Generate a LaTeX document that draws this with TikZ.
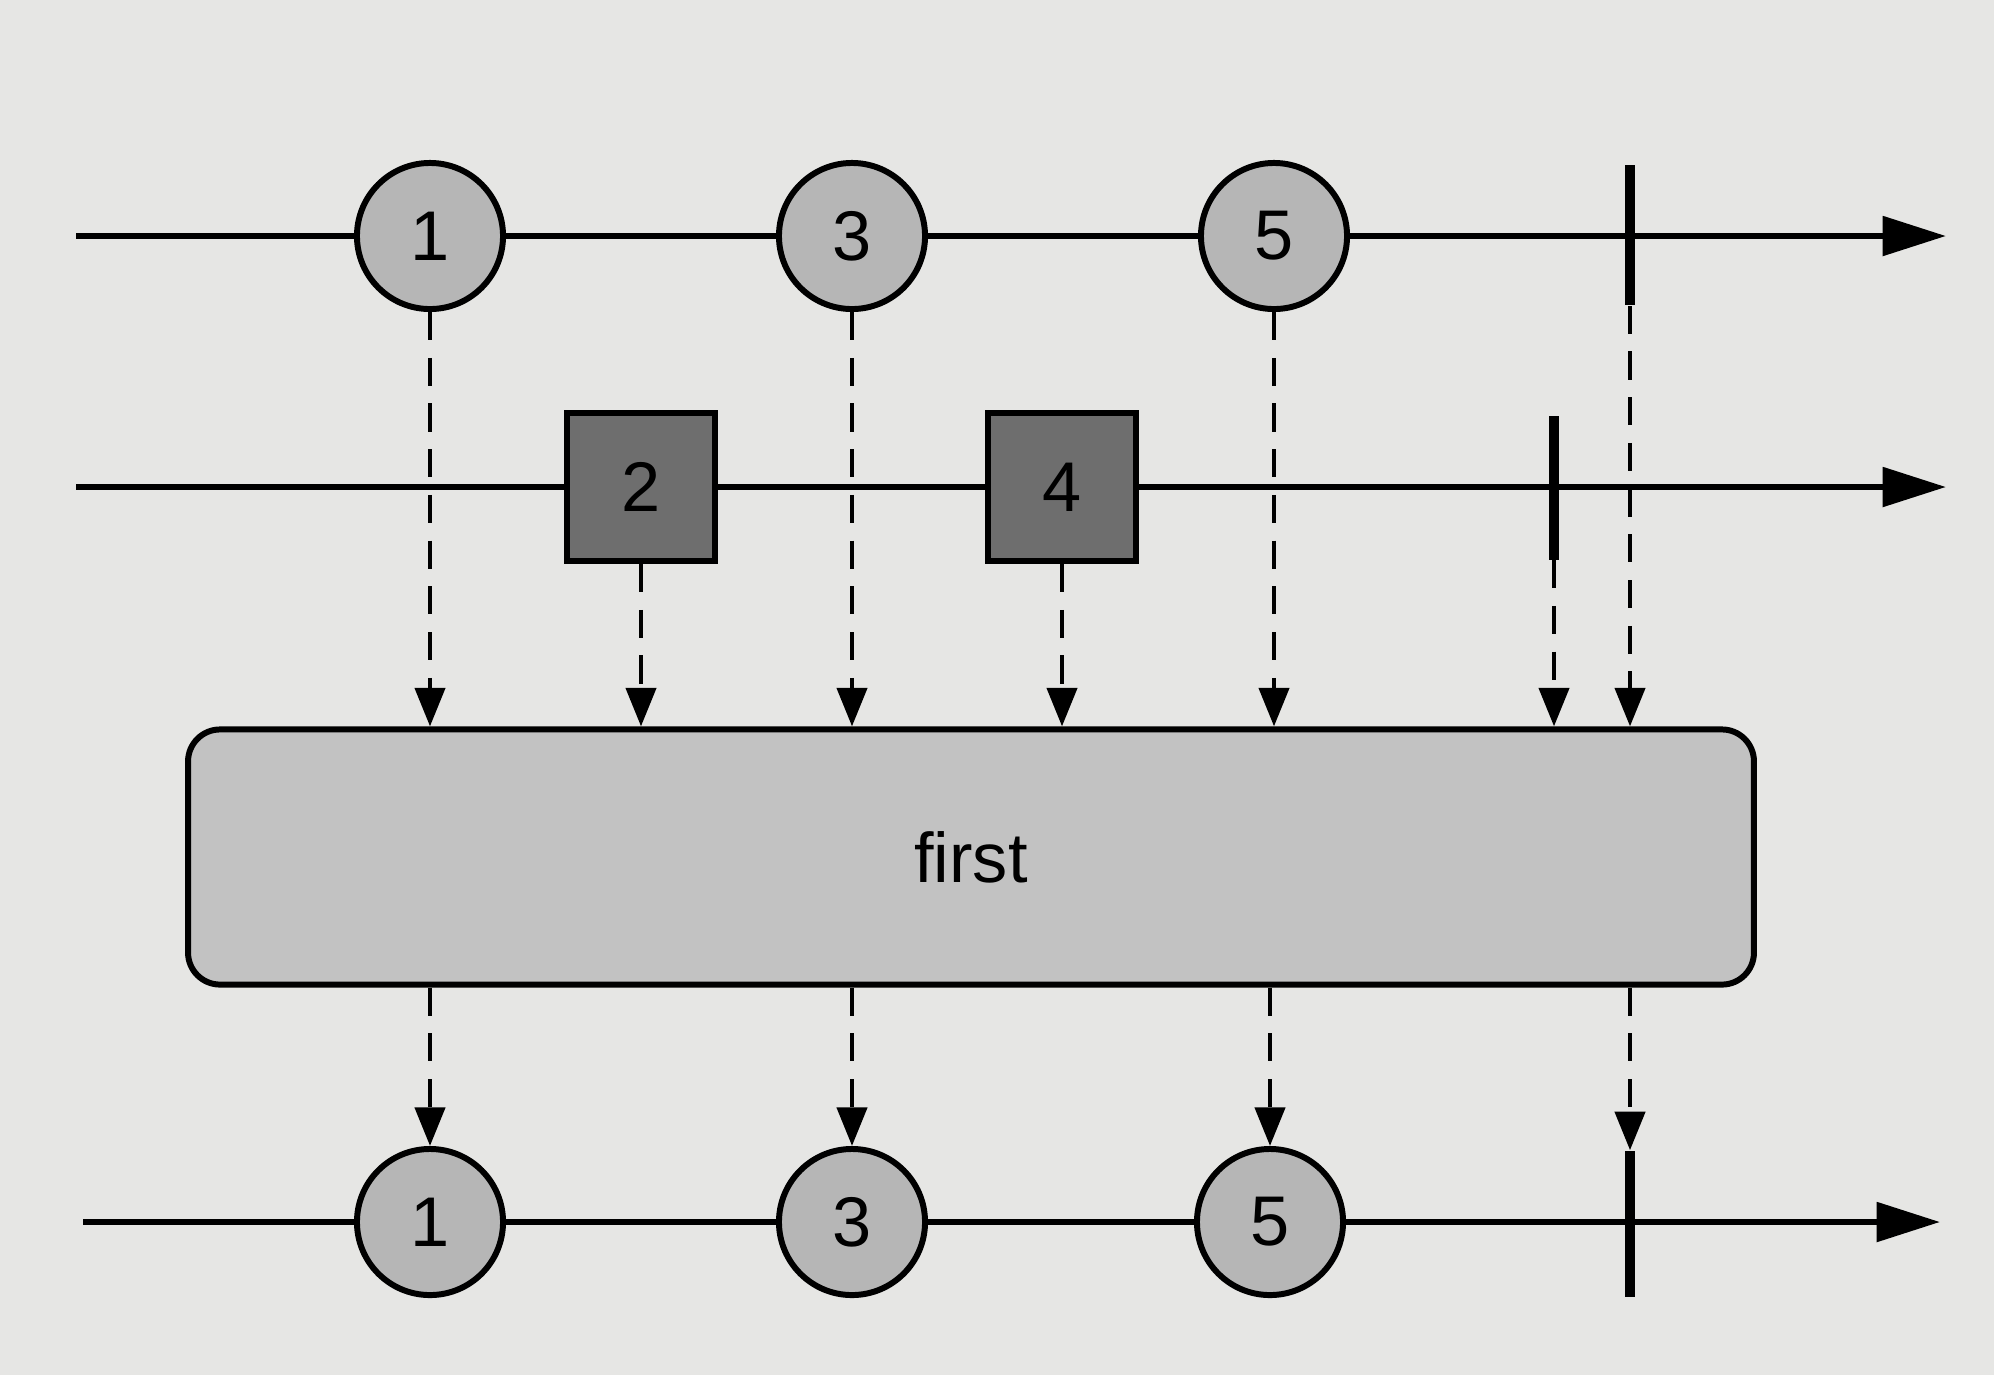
\documentclass[tikz,border=0pt]{standalone}
\usepackage{fontspec}
\setmainfont{Liberation Sans}
\usepackage{tikz}
\usetikzlibrary{positioning,arrows.meta}
\definecolor{paper}{HTML}{E6E6E4}
\definecolor{marblegray}{HTML}{B6B6B6}
\definecolor{squaregray}{HTML}{6E6E6E}
\definecolor{opgray}{HTML}{C2C2C2}
\newcommand{\marblefont}{\fontsize{20}{24}\selectfont}

\begin{document}
\begin{tikzpicture}[
    x=0.01cm, y=-0.01cm,
    timeline/.style={line width=1.8pt, -{Triangle[length=18pt, width=11pt]}},
    marble/.style={
        circle, draw, line width=1.7pt, fill=marblegray,
        minimum size=1.46cm, inner sep=0pt, font=\marblefont
    },
    sqmarble/.style={
        rectangle, draw, line width=1.7pt, fill=squaregray,
        minimum size=1.48cm, inner sep=0pt, font=\marblefont
    },
    endbar/.style={rectangle, fill=black, inner sep=0pt, minimum width=2.8pt},
    flow/.style={line width=1.4pt, dash pattern=on 8pt off 5pt,
        -{Triangle[length=11pt, width=8.5pt]}},
    opbox/.style={
        rectangle, draw, line width=1.7pt, rounded corners=0.32cm,
        fill=opgray, minimum width=15.65cm, minimum height=2.55cm,
        font=\marblefont
    }
]
\fill[paper] (0,0) rectangle (1994,1375);

% timelines
\coordinate (inA) at (76,236);   \coordinate (inAend) at (1946,236);
\coordinate (inB) at (76,487);   \coordinate (inBend) at (1946,487);
\coordinate (out) at (83,1222);  \coordinate (outend) at (1940,1222);
\draw[timeline] (inA) -- (inAend);
\draw[timeline] (inB) -- (inBend);
\draw[timeline] (out) -- (outend);

% first source
\node[marble] (c1) at (430,236)  {1};
\node[marble] (c3) at (852,236)  {3};
\node[marble] (c5) at (1274,236) {5};
\node[endbar, minimum height=1.4cm] (endA) at (1630,235) {};

% second source
\node[sqmarble] (s2) at (641,487)  {2};
\node[sqmarble] (s4) at (1062,487) {4};
\node[endbar, minimum height=1.43cm] (endB) at (1554,488) {};

% operator
\node[opbox] (op) at (971,857) {first};

% result
\node[marble] (o1) at (430,1222)  {1};
\node[marble] (o3) at (852,1222)  {3};
\node[marble] (o5) at (1270,1222) {5};
\node[endbar, minimum height=1.46cm] (endOut) at (1630,1224) {};

\foreach \n in {c1,s2,c3,s4,c5,endB,endA}
    \draw[flow] (\n.south) -- (\n.south |- op.north);
\foreach \n in {o1,o3,o5,endOut}
    \draw[flow] (\n.north |- op.south) -- (\n.north);
\end{tikzpicture}
\end{document}
